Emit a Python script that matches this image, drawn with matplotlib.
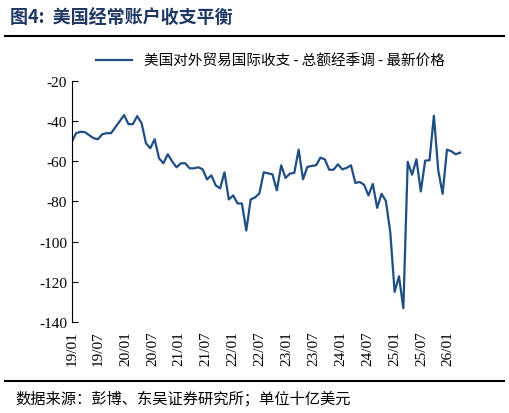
import matplotlib
matplotlib.use("Agg")
import matplotlib.pyplot as plt
import numpy as np

plt.rcParams['font.family'] = ['Liberation Serif', 'Noto Sans CJK SC']
plt.rcParams['axes.unicode_minus'] = False

# monthly values, bn USD
values = [
    -50.3, -46, -45.3, -45.5, -47, -48.5, -49, -46.5, -46, -46, -43, -40,
    -37, -41.5, -41.5, -37.5, -41, -51, -53.5, -49, -58.5, -61, -56.5, -60,
    -63, -61, -61, -63.5, -63.5, -63, -64, -69, -67, -72, -73.5, -65.5,
    -79, -77, -81, -81, -94.5, -79, -78, -76, -65.5, -66, -66.5, -74.5,
    -62, -68.3, -66.1, -65.8, -54.2, -69, -62.8, -62.3, -62, -58.2, -59, -64.2,
    -64.2, -61.5, -64, -63.3, -62, -70.8, -70.3, -71.7, -77, -71.3, -83.2, -76.2,
    -79.8, -95.3, -125, -117.3, -133.2, -60.3, -66.7, -59, -75, -59.7, -59.5, -37.3,
    -64.5, -76.2, -54.2, -55, -56.5, -55.7,
]
tick_labels = ['19/01', '19/07', '20/01', '20/07', '21/01', '21/07', '22/01', '22/07',
               '23/01', '23/07', '24/01', '24/07', '25/01', '25/07', '26/01']

fig = plt.figure(figsize=(5.09, 4.14), dpi=100)
ax = fig.add_axes([0.141, 0.22, 0.78, 0.582])

x = np.arange(len(values))
ax.plot(x, values, color='#1f4e84', lw=1.6,
        label='美国对外贸易国际收支 - 总额经季调 - 最新价格')

ax.set_ylim(-140, -20)
ax.set_yticks(np.arange(-140, -19, 20))
ax.set_xlim(0, len(values) + 1)
ax.set_xticks(np.linspace(0, 86.3, len(tick_labels)))
ax.set_xticklabels(tick_labels, rotation=90, fontsize=11)
ax.tick_params(axis='y', direction='in', labelsize=11, length=4)
ax.tick_params(axis='x', length=0, pad=6)
for s in ['top', 'right', 'bottom']:
    ax.spines[s].set_visible(False)

ax.legend(loc='lower center', bbox_to_anchor=(0.5, 1.0), frameon=False,
          handlelength=2.5, prop={'family': 'Noto Sans CJK SC', 'size': 10.5})

fig.text(0.02, 0.955, '图4:  美国经常账户收支平衡', fontsize=13, fontweight='bold',
         color='#1f3864', family=['Noto Sans CJK SC'], va='center')
fig.add_artist(plt.Line2D([0.01, 0.99], [0.91, 0.91], color='black', lw=1.5))
fig.add_artist(plt.Line2D([0.01, 0.99], [0.078, 0.078], color='black', lw=1.5))
fig.text(0.03, 0.035, '数据来源：彭博、东吴证券研究所；单位十亿美元', fontsize=11,
         family=['Noto Sans CJK SC'], va='center')

fig.savefig('out.png', dpi=100)
